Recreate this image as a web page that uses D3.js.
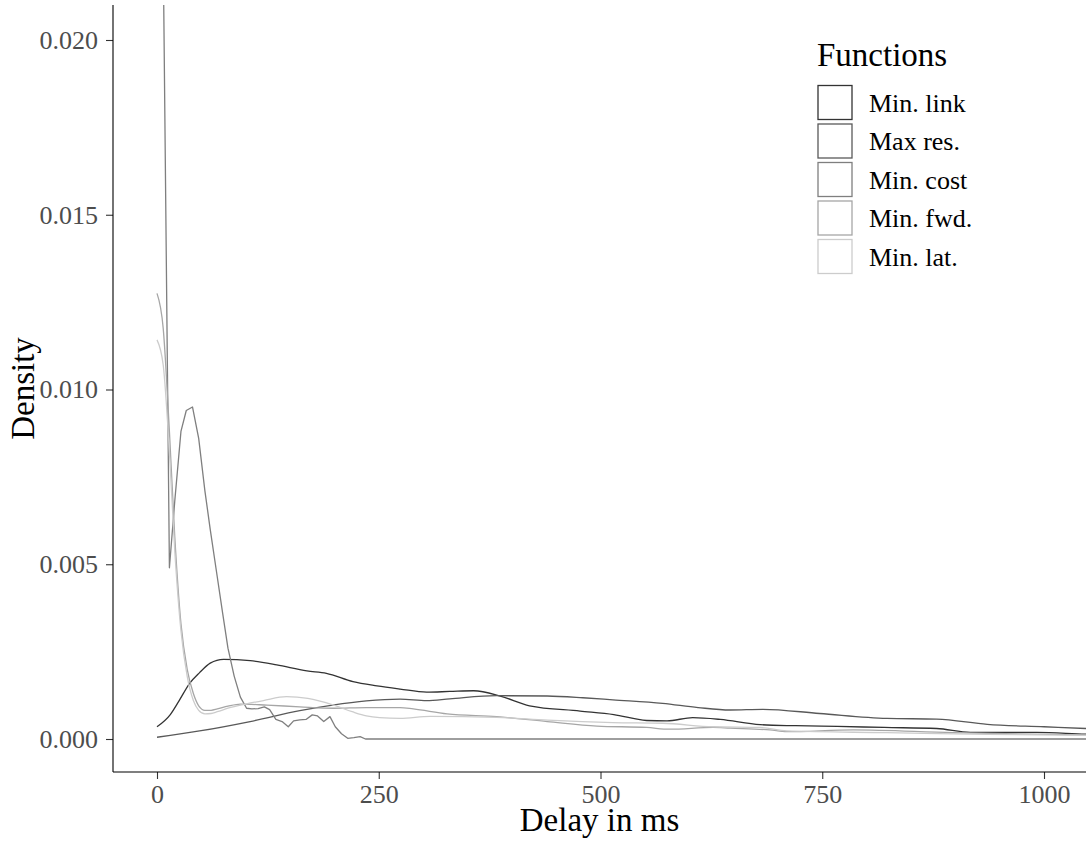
<!DOCTYPE html>
<html>
<head>
<meta charset="utf-8">
<script src="https://cdn.jsdelivr.net/npm/d3@7"></script>
<style>
  html, body { margin: 0; padding: 0; background: #ffffff; }
  svg { display: block; }
  text { font-family: "Liberation Serif", "Times New Roman", serif; }
</style>
</head>
<body>
<svg id="chart" width="1086" height="844"></svg>
<script>
// Kernel density estimates of delay (ms) per placement function, as [delay, density] pairs
const minLink = [
  [0,0.00035],[15,0.0007],[25,0.0011],[37,0.0016],[48,0.0019],[60,0.00217],[75,0.00228],
  [90,0.00227],[105,0.00224],[135,0.00212],[169,0.00195],[191,0.00188],[221,0.00164],
  [248,0.00152],[274,0.00143],[304,0.00134],[330,0.00136],[357,0.00138],[387,0.00123],
  [420,0.00095],[477,0.0008],[515,0.0007],[552,0.00053],[575,0.00052],[604,0.00061],
  [635,0.00056],[680,0.00041],[720,0.00038],[767,0.00036],[820,0.00033],[879,0.0003],
  [917,0.00019],[992,0.00019],[1047,0.00014],[1090,0.00012]
];
const maxRes = [
  [0,0.00005],[48,0.00023],[105,0.0005],[161,0.00081],[198,0.00097],[236,0.00109],
  [274,0.00114],[304,0.0011],[330,0.00115],[383,0.00124],[440,0.00123],[480,0.00118],
  [514,0.00112],[570,0.00102],[610,0.0009],[646,0.00083],[683,0.00085],[747,0.00073],
  [823,0.00059],[879,0.00057],[936,0.00042],[1000,0.00035],[1047,0.0003],[1090,0.00027]
];
const minCost = [
  [0,0.035],[7,0.0225],[14,0.0049],[20,0.0068],[27,0.0088],[33,0.0094],[40,0.0095],
  [47,0.0086],[54,0.0071],[60,0.006],[67,0.0048],[74,0.0036],[80,0.0026],[87,0.0018],
  [94,0.0012],[101,0.00088],[107,0.00086],[114,0.00087],[121,0.00092],[127,0.00084],
  [134,0.00056],[141,0.0005],[148,0.00035],[154,0.00052],[161,0.00055],[168,0.00056],
  [175,0.00069],[181,0.00066],[188,0.0005],[195,0.00064],[201,0.00035],[208,0.00015],
  [215,0.00002],[222,0.00004],[229,0.00007],[235,0],[1090,0]
];
const minFwd = [
  [0,0.01275],[7,0.01175],[14,0.0088],[20,0.0058],[27,0.0033],[34,0.002],[41,0.0013],
  [47,0.00095],[54,0.00082],[61,0.00082],[68,0.00086],[80,0.00094],[94,0.001],[124,0.00097],
  [161,0.00092],[199,0.00088],[236,0.0009],[251,0.0009],[274,0.0009],[289,0.00086],
  [327,0.00072],[383,0.00064],[440,0.0005],[496,0.00037],[552,0.00033],[578,0.00028],
  [627,0.00033],[646,0.00031],[691,0.00026],[710,0.00021],[785,0.00026],[897,0.00018],
  [1010,0.00013],[1090,0.0001]
];
const minLat = [
  [0,0.01142],[7,0.0107],[14,0.0082],[20,0.0054],[27,0.0031],[34,0.0018],[41,0.0011],
  [47,0.00082],[54,0.00072],[61,0.00073],[68,0.00078],[80,0.00088],[100,0.001],[120,0.0011],
  [146,0.00121],[170,0.00116],[199,0.00097],[220,0.00078],[236,0.00066],[251,0.00061],
  [274,0.00059],[308,0.00065],[383,0.00062],[440,0.00054],[514,0.00047],[570,0.00045],
  [627,0.00035],[680,0.00033],[710,0.00023],[823,0.00018],[936,0.00013],[1090,0.0001]
];

const seriesNames = ["Min. link", "Max res.", "Min. cost", "Min. fwd.", "Min. lat."];
const seriesData = [minLink, maxRes, minCost, minFwd, minLat];
const seriesColors = ["#333333", "#595959", "#7f7f7f", "#a6a6a6", "#cccccc"];
const xTicks = [0, 250, 500, 750, 1000];
const yTicks = [0, 0.005, 0.010, 0.015, 0.020];

const svg = d3.select("#chart");
const panel = { left: 113, right: 1086, top: 5, bottom: 772 };

const x = d3.scaleLinear().domain([0, 1000]).range([157, 1044]);
const y = d3.scaleLinear().domain([0, 0.020]).range([739, 40]);

svg.append("defs").append("clipPath").attr("id", "panel-clip")
  .append("rect")
  .attr("x", panel.left).attr("y", panel.top)
  .attr("width", panel.right - panel.left).attr("height", panel.bottom - panel.top);

// density curves
const lineGen = d3.line().x(d => x(d[0])).y(d => y(d[1]));
const curves = svg.append("g").attr("clip-path", "url(#panel-clip)");
seriesData.forEach((data, i) => {
  curves.append("path")
    .datum(data)
    .attr("fill", "none")
    .attr("stroke", seriesColors[i])
    .attr("stroke-width", 1.3)
    .attr("stroke-linejoin", "round")
    .attr("d", lineGen.curve(i === 2 ? d3.curveLinear : d3.curveMonotoneX));
});

// axes
const xAxis = d3.axisBottom(x).tickValues(xTicks).tickSize(7).tickPadding(6)
  .tickFormat(d3.format("d"));
const yAxis = d3.axisLeft(y).tickValues(yTicks).tickSize(7).tickPadding(8)
  .tickFormat(d3.format(".3f"));

const gx = svg.append("g").attr("transform", `translate(0,${panel.bottom})`).call(xAxis);
const gy = svg.append("g").attr("transform", `translate(${panel.left},0)`).call(yAxis);

[gx, gy].forEach(g => {
  g.select(".domain").remove();
  g.selectAll(".tick line").attr("stroke", "#333333").attr("stroke-width", 1.1);
  g.selectAll(".tick text")
    .attr("fill", "#4d4d4d")
    .style("font-size", "26px")
    .style("font-family", "'Liberation Serif', serif");
});
gx.selectAll(".tick text").attr("dy", "0.71em");

// axis lines
svg.append("line")
  .attr("x1", panel.left).attr("x2", panel.right)
  .attr("y1", panel.bottom).attr("y2", panel.bottom)
  .attr("stroke", "#000").attr("stroke-width", 1.1);
svg.append("line")
  .attr("x1", panel.left).attr("x2", panel.left)
  .attr("y1", panel.top).attr("y2", panel.bottom)
  .attr("stroke", "#000").attr("stroke-width", 1.1);

// axis titles
svg.append("text")
  .attr("x", (panel.left + panel.right) / 2).attr("y", 831)
  .attr("text-anchor", "middle")
  .style("font-size", "33px").attr("fill", "#000")
  .text("Delay in ms");
svg.append("text")
  .attr("transform", `translate(34,${(panel.top + panel.bottom) / 2}) rotate(-90)`)
  .attr("text-anchor", "middle")
  .style("font-size", "33px").attr("fill", "#000")
  .text("Density");

// legend
const legend = svg.append("g").attr("transform", "translate(817,0)");
legend.append("text")
  .attr("x", 0).attr("y", 66)
  .style("font-size", "33px").attr("fill", "#000")
  .text("Functions");
seriesNames.forEach((name, i) => {
  const top = 85.5 + i * 38.5;
  legend.append("rect")
    .attr("x", 1).attr("y", top)
    .attr("width", 34).attr("height", 34)
    .attr("fill", "#ffffff")
    .attr("stroke", seriesColors[i]).attr("stroke-width", 1.3);
  legend.append("text")
    .attr("x", 52).attr("y", top + 26)
    .style("font-size", "26px").attr("fill", "#000")
    .text(name);
});
</script>
</body>
</html>
